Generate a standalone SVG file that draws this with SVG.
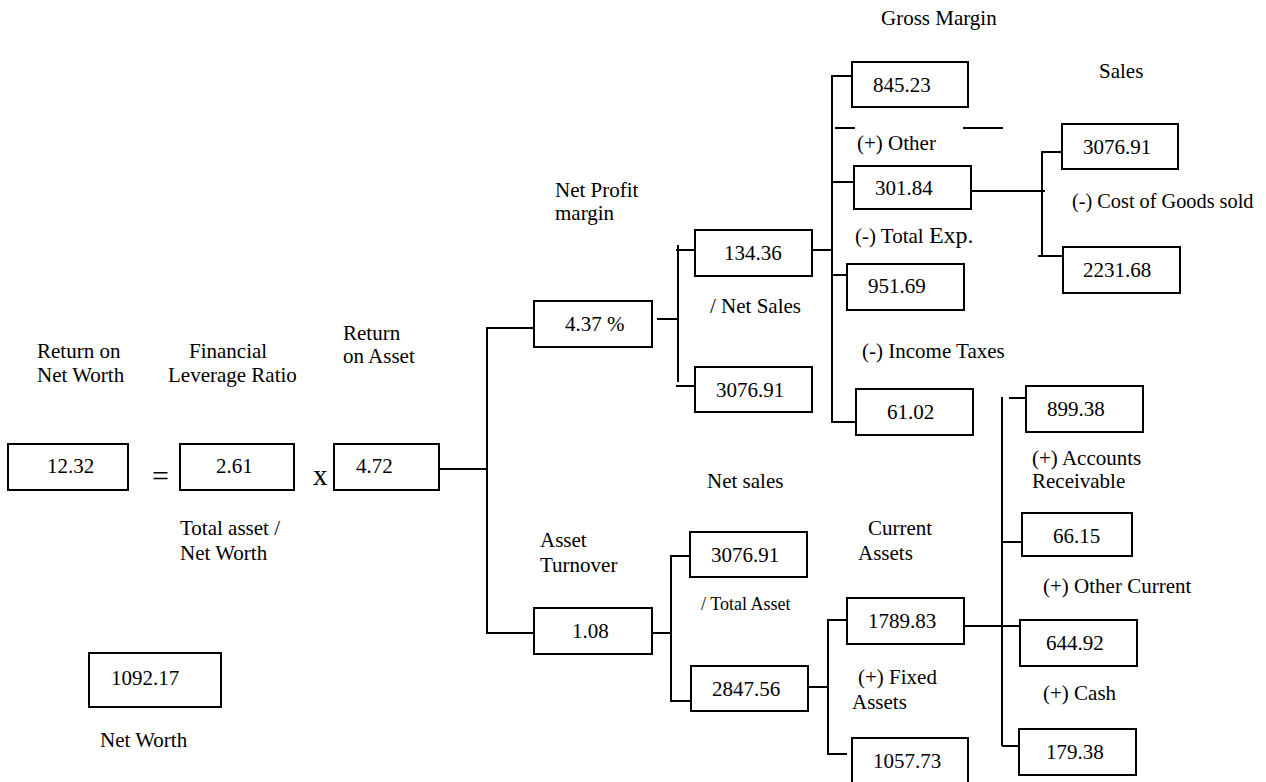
<svg xmlns="http://www.w3.org/2000/svg" width="1266" height="782" viewBox="0 0 1266 782">
<style>
text{font-family:'Liberation Serif','Times New Roman',Tinos,'DejaVu Serif',serif;font-size:21px;fill:#000}
.box{fill:#fff;stroke:#000;stroke-width:2}
.c line{stroke:#000;stroke-width:2}
.sm{font-size:18px}
</style>
<rect width="1266" height="782" fill="#fff"/>
<g class="c" id="connectors">
<line x1="439" y1="469" x2="487" y2="469"/>
<line x1="487" y1="327" x2="487" y2="634"/>
<line x1="487" y1="328" x2="534" y2="328"/>
<line x1="487" y1="633" x2="534" y2="633"/>
<line x1="657" y1="319" x2="677" y2="319"/>
<line x1="678" y1="245" x2="678" y2="382"/>
<line x1="676" y1="250" x2="695" y2="250"/>
<line x1="676" y1="386" x2="695" y2="386"/>
<line x1="812" y1="250" x2="832" y2="250"/>
<line x1="832" y1="75" x2="832" y2="423"/>
<line x1="832" y1="76" x2="852" y2="76"/>
<line x1="832" y1="182" x2="854" y2="182"/>
<line x1="832" y1="275" x2="847" y2="275"/>
<line x1="832" y1="422" x2="856" y2="422"/>
<line x1="835" y1="128" x2="855" y2="128"/>
<line x1="963" y1="128" x2="1003" y2="128"/>
<line x1="971" y1="191" x2="1045" y2="191"/>
<line x1="1042" y1="151" x2="1042" y2="257"/>
<line x1="1042" y1="152" x2="1062" y2="152"/>
<line x1="1038" y1="256" x2="1063" y2="256"/>
<line x1="652" y1="633" x2="671" y2="633"/>
<line x1="671" y1="555" x2="671" y2="702"/>
<line x1="671" y1="556" x2="690" y2="556"/>
<line x1="671" y1="701" x2="691" y2="701"/>
<line x1="808" y1="687" x2="828" y2="687"/>
<line x1="828" y1="619" x2="828" y2="755"/>
<line x1="828" y1="620" x2="847" y2="620"/>
<line x1="828" y1="754" x2="847" y2="754"/>
<line x1="964" y1="626" x2="1020" y2="626"/>
<line x1="1002" y1="397" x2="1002" y2="746"/>
<line x1="1009" y1="398" x2="1026" y2="398"/>
<line x1="1001" y1="542" x2="1022" y2="542"/>
<line x1="1002" y1="746" x2="1019" y2="746"/>
</g>
<g id="n-rnw"><rect class="box" x="8" y="444" width="120" height="46"/><text x="47" y="473">12.32</text></g>
<g id="n-flr"><rect class="box" x="180" y="444" width="114" height="46"/><text x="216" y="473">2.61</text></g>
<g id="n-roa"><rect class="box" x="334" y="444" width="105" height="46"/><text x="356" y="473">4.72</text></g>
<g id="n-npm"><rect class="box" x="534" y="301" width="118" height="46"/><text x="565" y="331">4.37 %</text></g>
<g id="n-np"><rect class="box" x="695" y="230" width="117" height="46"/><text x="724" y="260">134.36</text></g>
<g id="n-ns1"><rect class="box" x="695" y="367" width="117" height="45"/><text x="716" y="397">3076.91</text></g>
<g id="n-gm"><rect class="box" x="852" y="62" width="116" height="45"/><text x="873" y="92">845.23</text></g>
<g id="n-oth"><rect class="box" x="854" y="166" width="117" height="43"/><text x="875" y="195">301.84</text></g>
<g id="n-te"><rect class="box" x="847" y="264" width="117" height="46"/><text x="868" y="293">951.69</text></g>
<g id="n-it"><rect class="box" x="856" y="389" width="117" height="46"/><text x="887" y="419">61.02</text></g>
<g id="n-sales"><rect class="box" x="1062" y="124" width="116" height="45"/><text x="1083" y="154">3076.91</text></g>
<g id="n-cogs"><rect class="box" x="1063" y="247" width="117" height="46"/><text x="1083" y="277">2231.68</text></g>
<g id="n-at"><rect class="box" x="534" y="608" width="118" height="46"/><text x="572" y="638">1.08</text></g>
<g id="n-ns2"><rect class="box" x="690" y="532" width="117" height="45"/><text x="711" y="562">3076.91</text></g>
<g id="n-ta"><rect class="box" x="691" y="666" width="117" height="45"/><text x="712" y="696">2847.56</text></g>
<g id="n-ca"><rect class="box" x="847" y="598" width="117" height="46"/><text x="868" y="628">1789.83</text></g>
<g id="n-fa"><rect class="box" x="852" y="738" width="116" height="48"/><text x="873" y="768">1057.73</text></g>
<g id="n-ar"><rect class="box" x="1026" y="386" width="117" height="46"/><text x="1047" y="416">899.38</text></g>
<g id="n-ocur"><rect class="box" x="1022" y="513" width="110" height="43"/><text x="1053" y="543">66.15</text></g>
<g id="n-oc"><rect class="box" x="1020" y="620" width="117" height="46"/><text x="1046" y="650">644.92</text></g>
<g id="n-cash"><rect class="box" x="1019" y="729" width="117" height="46"/><text x="1046" y="759">179.38</text></g>
<g id="n-nw"><rect class="box" x="89" y="653" width="132" height="54"/><text x="111" y="685">1092.17</text></g>
<g id="labels">
<text x="37" y="358">Return on</text>
<text x="37" y="382">Net Worth</text>
<text x="189" y="358">Financial</text>
<text x="168" y="382">Leverage Ratio</text>
<text x="343" y="340">Return</text>
<text x="343" y="363">on Asset</text>
<text x="180" y="535">Total asset /</text>
<text x="180" y="560">Net Worth</text>
<text x="100" y="747">Net Worth</text>
<text x="152" y="486" style="font-size:30px">=</text>
<text x="313" y="485" style="font-size:29px">x</text>
<text x="555" y="197">Net Profit</text>
<text x="555" y="220">margin</text>
<text x="710" y="313">/ Net Sales</text>
<text x="881" y="25">Gross Margin</text>
<text x="1099" y="78">Sales</text>
<text x="857" y="150">(+) Other</text>
<text x="1072" y="208" style="font-size:20.3px">(-) Cost of Goods sold</text>
<text x="855" y="243">(-) Total <tspan style="font-size:24px">Exp.</tspan></text>
<text x="862" y="358">(-) Income Taxes</text>
<text x="707" y="488">Net sales</text>
<text x="540" y="547">Asset</text>
<text x="540" y="572">Turnover</text>
<text x="701" y="610" class="sm">/ Total Asset</text>
<text x="868" y="535">Current</text>
<text x="858" y="560">Assets</text>
<text x="858" y="684">(+) Fixed</text>
<text x="852" y="709">Assets</text>
<text x="1032" y="465">(+) Accounts</text>
<text x="1032" y="488">Receivable</text>
<text x="1043" y="593">(+) Other Current</text>
<text x="1043" y="700">(+) Cash</text>
</g>
</svg>
